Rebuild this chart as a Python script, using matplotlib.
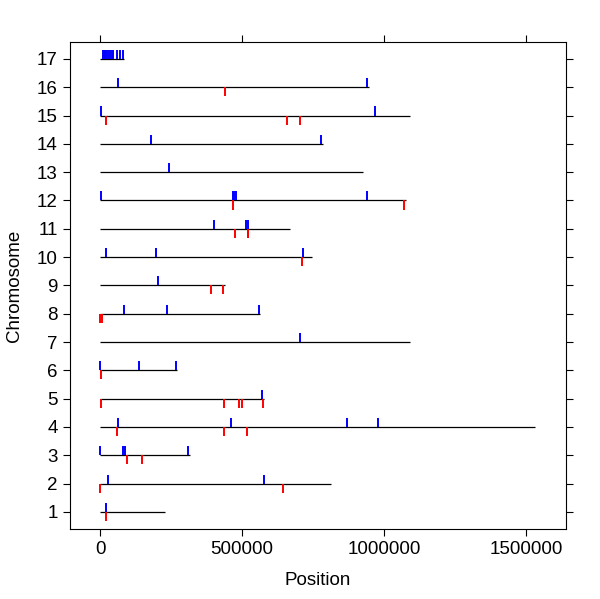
import matplotlib
matplotlib.use('Agg')
import matplotlib.pyplot as plt

plt.rcParams['font.family'] = ['Liberation Sans', 'DejaVu Sans']

# Chromosome numbers and lengths (bp)
chromosomes = list(range(1, 18))
chrom_lengths = [230218, 813184, 316620, 1531933, 576874, 270161, 1090940,
                 562643, 439888, 745751, 666816, 1078177, 924431, 784333,
                 1091291, 948066, 85779]

# Sites drawn above the line (blue), one list per chromosome
blue_sites = [
    [20000],
    [28000, 576000],
    [1000, 82000, 88000, 308000],
    [63000, 460000, 869000, 979000],
    [569000],
    [500, 137000, 268000],
    [705000],
    [84000, 235000, 558000],
    [204000],
    [21000, 196000, 715000],
    [402000, 515000, 520000],
    [3500, 468000, 473000, 479000, 938000],
    [242000],
    [181000, 776000],
    [3500, 968000],
    [62000, 940000],
    [10000, 14000, 18000, 22000, 29000, 34000, 42000, 47000,
     58000, 69000, 80000],
]

# Sites drawn below the line (red), one list per chromosome
red_sites = [
    [21000],
    [1000, 645000],
    [94000, 148000],
    [58000, 436000, 516000],
    [3500, 436000, 490000, 500000, 573000],
    [3500],
    [],
    [1000, 6000],
    [392000, 434000],
    [712000],
    [475000, 519000, 522000],
    [468000, 1069000],
    [],
    [],
    [20000, 659000, 705000],
    [440000],
    [],
]

TICK_H = 0.32

fig = plt.figure(figsize=(6.0, 5.99), dpi=100)
ax = fig.add_axes([0.116, 0.117, 0.827, 0.813])

ax.hlines(chromosomes, 0, chrom_lengths, color='black', linewidth=0.9)
for chrom, ups, downs in zip(chromosomes, blue_sites, red_sites):
    if ups:
        ax.vlines(ups, chrom, chrom + TICK_H, color='blue', linewidth=1.4)
    if downs:
        ax.vlines(downs, chrom - TICK_H, chrom, color='red', linewidth=1.4)

ax.set_xlim(-107235, 1639168)
ax.set_ylim(0.4, 17.6)
ax.set_xticks([0, 500000, 1000000, 1500000])
ax.set_xticklabels(['0', '500000', '1000000', '1500000'])
ax.set_yticks(chromosomes)
ax.set_yticklabels([str(c) for c in chromosomes])
ax.tick_params(direction='out', length=5, width=0.8, labelsize=13.5,
               top=True, right=True, labeltop=False, labelright=False)
for spine in ax.spines.values():
    spine.set_linewidth(0.8)

ax.set_xlabel('Position', fontsize=13.5, labelpad=10)
ax.set_ylabel('Chromosome', fontsize=13.5, labelpad=10)

plt.savefig('out.png', dpi=100)
plt.close()
